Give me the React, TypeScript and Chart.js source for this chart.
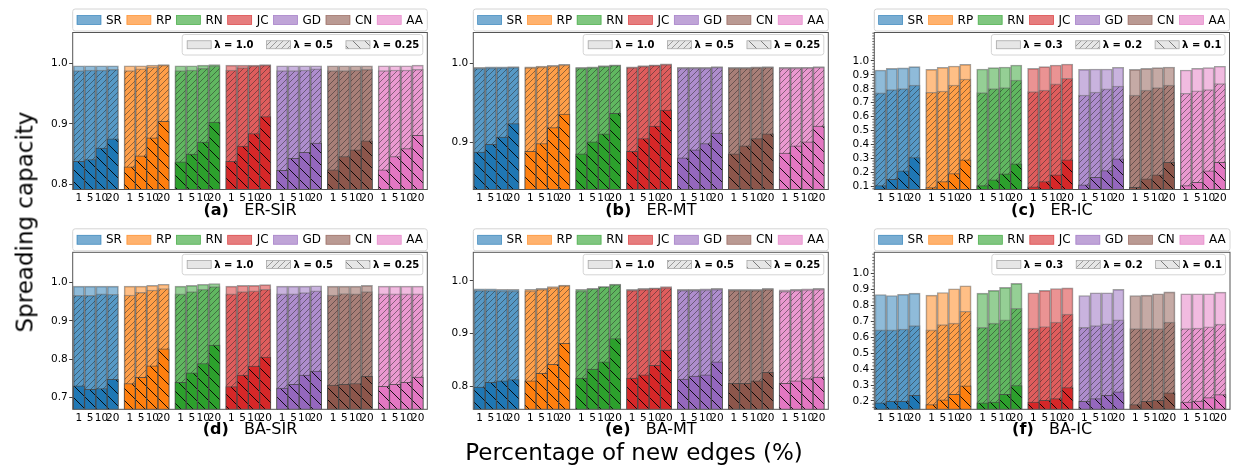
import { useEffect, useRef } from 'react';
import { Chart, registerables } from 'chart.js';

Chart.register(...registerables);

// ---------- categories / labels ----------
const METHODS = ['SR', 'RP', 'RN', 'JC', 'GD', 'CN', 'AA'];
const PCT_LABELS = ['1', '5', '10', '20'];
const COLORS = ['#1f77b4', '#ff7f0e', '#2ca02c', '#d62728', '#9467bd', '#8c564b', '#e377c2'];
const LAMBDA_SIR_MT = ['λ = 1.0', 'λ = 0.5', 'λ = 0.25'];
const LAMBDA_IC = ['λ = 0.3', 'λ = 0.2', 'λ = 0.1'];

// ---------- data (7 methods x 4 percentages) ----------
// (a) ER-SIR
const ER_SIR_HIGH = [0.996, 0.996, 0.996, 0.996, 0.996, 0.996, 0.997, 0.998, 0.996, 0.996, 0.997, 0.998, 0.997, 0.997, 0.997, 0.998, 0.996, 0.996, 0.996, 0.996, 0.996, 0.996, 0.996, 0.996, 0.996, 0.996, 0.996, 0.997];
const ER_SIR_MID = [0.988, 0.989, 0.989, 0.990, 0.988, 0.991, 0.994, 0.997, 0.988, 0.989, 0.992, 0.996, 0.989, 0.993, 0.996, 0.997, 0.988, 0.988, 0.989, 0.991, 0.988, 0.988, 0.989, 0.990, 0.988, 0.989, 0.989, 0.990];
const ER_SIR_LOW = [0.838, 0.841, 0.860, 0.875, 0.829, 0.847, 0.877, 0.904, 0.837, 0.850, 0.870, 0.903, 0.838, 0.863, 0.884, 0.912, 0.823, 0.843, 0.853, 0.868, 0.824, 0.846, 0.857, 0.872, 0.824, 0.846, 0.859, 0.881];
// (b) ER-MT
const ER_MT_HIGH = [0.995, 0.9955, 0.9955, 0.996, 0.9955, 0.9965, 0.9975, 0.9988, 0.995, 0.9955, 0.997, 0.998, 0.9957, 0.997, 0.998, 0.9993, 0.995, 0.995, 0.995, 0.996, 0.995, 0.995, 0.9955, 0.996, 0.995, 0.995, 0.995, 0.996];
const ER_MT_MID = [0.9938, 0.9942, 0.9943, 0.9948, 0.9945, 0.9955, 0.9966, 0.998, 0.994, 0.9945, 0.9962, 0.9975, 0.9946, 0.9963, 0.9973, 0.9985, 0.994, 0.994, 0.994, 0.995, 0.994, 0.994, 0.9945, 0.995, 0.994, 0.994, 0.9943, 0.995];
const ER_MT_LOW = [0.888, 0.898, 0.907, 0.924, 0.889, 0.899, 0.919, 0.936, 0.886, 0.901, 0.911, 0.937, 0.889, 0.905, 0.921, 0.941, 0.881, 0.891, 0.899, 0.912, 0.886, 0.896, 0.905, 0.911, 0.887, 0.896, 0.901, 0.921];
// (c) ER-IC
const ER_IC_HIGH = [0.935, 0.947, 0.950, 0.959, 0.940, 0.954, 0.964, 0.976, 0.942, 0.952, 0.957, 0.971, 0.947, 0.959, 0.971, 0.978, 0.940, 0.942, 0.942, 0.955, 0.940, 0.947, 0.952, 0.957, 0.935, 0.947, 0.952, 0.962];
const ER_IC_MID = [0.770, 0.794, 0.801, 0.827, 0.775, 0.784, 0.827, 0.870, 0.772, 0.801, 0.808, 0.863, 0.779, 0.791, 0.835, 0.876, 0.755, 0.777, 0.799, 0.820, 0.755, 0.791, 0.808, 0.827, 0.768, 0.786, 0.794, 0.837];
const ER_IC_LOW = [0.103, 0.149, 0.209, 0.305, 0.088, 0.132, 0.190, 0.288, 0.103, 0.144, 0.187, 0.259, 0.095, 0.132, 0.180, 0.288, 0.108, 0.163, 0.211, 0.295, 0.091, 0.151, 0.180, 0.271, 0.103, 0.127, 0.209, 0.271];
// (d) BA-SIR
const BA_SIR_HIGH = [0.990, 0.990, 0.990, 0.990, 0.990, 0.990, 0.992, 0.995, 0.990, 0.992, 0.995, 0.997, 0.990, 0.992, 0.992, 0.994, 0.990, 0.990, 0.990, 0.991, 0.990, 0.990, 0.990, 0.992, 0.990, 0.990, 0.990, 0.990];
const BA_SIR_MID = [0.966, 0.966, 0.970, 0.969, 0.967, 0.974, 0.980, 0.984, 0.970, 0.976, 0.982, 0.989, 0.970, 0.976, 0.978, 0.982, 0.970, 0.970, 0.973, 0.978, 0.967, 0.971, 0.970, 0.976, 0.970, 0.970, 0.970, 0.970];
const BA_SIR_LOW = [0.731, 0.722, 0.724, 0.748, 0.737, 0.753, 0.783, 0.827, 0.740, 0.765, 0.789, 0.837, 0.729, 0.759, 0.782, 0.806, 0.725, 0.735, 0.759, 0.769, 0.733, 0.735, 0.737, 0.756, 0.730, 0.735, 0.740, 0.754];
// (e) BA-MT
const BA_MT_HIGH = [0.985, 0.985, 0.984, 0.984, 0.984, 0.986, 0.989, 0.992, 0.984, 0.986, 0.989, 0.994, 0.984, 0.986, 0.987, 0.989, 0.984, 0.984, 0.985, 0.986, 0.984, 0.984, 0.984, 0.986, 0.983, 0.984, 0.985, 0.986];
const BA_MT_MID = [0.982, 0.982, 0.981, 0.981, 0.981, 0.984, 0.987, 0.991, 0.981, 0.985, 0.989, 0.993, 0.982, 0.984, 0.986, 0.987, 0.982, 0.982, 0.983, 0.984, 0.982, 0.982, 0.982, 0.984, 0.980, 0.982, 0.983, 0.984];
const BA_MT_LOW = [0.799, 0.808, 0.811, 0.813, 0.811, 0.825, 0.842, 0.882, 0.816, 0.833, 0.847, 0.891, 0.816, 0.822, 0.840, 0.869, 0.814, 0.820, 0.822, 0.847, 0.806, 0.806, 0.811, 0.827, 0.806, 0.811, 0.815, 0.818];
// (f) BA-IC
const BA_IC_HIGH = [0.867, 0.861, 0.869, 0.876, 0.863, 0.880, 0.903, 0.922, 0.876, 0.893, 0.912, 0.937, 0.878, 0.893, 0.905, 0.909, 0.861, 0.878, 0.878, 0.899, 0.861, 0.863, 0.872, 0.884, 0.872, 0.872, 0.872, 0.882];
const BA_IC_MID = [0.646, 0.646, 0.651, 0.672, 0.646, 0.678, 0.688, 0.762, 0.661, 0.688, 0.709, 0.781, 0.657, 0.667, 0.695, 0.745, 0.661, 0.672, 0.684, 0.709, 0.653, 0.653, 0.653, 0.695, 0.653, 0.657, 0.665, 0.682];
const BA_IC_LOW = [0.189, 0.198, 0.198, 0.236, 0.177, 0.208, 0.242, 0.295, 0.189, 0.194, 0.242, 0.297, 0.194, 0.204, 0.215, 0.284, 0.198, 0.215, 0.236, 0.257, 0.177, 0.198, 0.204, 0.251, 0.194, 0.200, 0.221, 0.240];

const TICKS_ER_SIR = [0.8, 0.9, 1.0];
const TICKS_ER_MT = [0.9, 1.0];
const TICKS_IC_ER = [0.1, 0.2, 0.3, 0.4, 0.5, 0.6, 0.7, 0.8, 0.9, 1.0];
const TICKS_BA_SIR = [0.7, 0.8, 0.9, 1.0];
const TICKS_BA_MT = [0.8, 0.9, 1.0];
const TICKS_IC_BA = [0.2, 0.3, 0.4, 0.5, 0.6, 0.7, 0.8, 0.9, 1.0];

// ---------- layout ----------
const W = 1243;
const H = 473;
const FONT = '"DejaVu Sans", "Liberation Sans", sans-serif';

const PANELS = [
  { tag: '(a)', name: 'ER-SIR', lambdas: LAMBDA_SIR_MT, high: ER_SIR_HIGH, mid: ER_SIR_MID, low: ER_SIR_LOW, yMin: 0.7914, yMax: 1.051, yTicks: TICKS_ER_SIR, minor: false, box: [72.7, 32.5, 427.3, 189.5] },
  { tag: '(b)', name: 'ER-MT', lambdas: LAMBDA_SIR_MT, high: ER_MT_HIGH, mid: ER_MT_MID, low: ER_MT_LOW, yMin: 0.841, yMax: 1.0388, yTicks: TICKS_ER_MT, minor: false, box: [473.3, 32.5, 828.3, 189.5] },
  { tag: '(c)', name: 'ER-IC', lambdas: LAMBDA_IC, high: ER_IC_HIGH, mid: ER_IC_MID, low: ER_IC_LOW, yMin: 0.075, yMax: 1.205, yTicks: TICKS_IC_ER, minor: true, box: [874.3, 32.5, 1229.5, 189.5] },
  { tag: '(d)', name: 'BA-SIR', lambdas: LAMBDA_SIR_MT, high: BA_SIR_HIGH, mid: BA_SIR_MID, low: BA_SIR_LOW, yMin: 0.670, yMax: 1.078, yTicks: TICKS_BA_SIR, minor: false, box: [72.7, 252.3, 427.3, 409.3] },
  { tag: '(e)', name: 'BA-MT', lambdas: LAMBDA_SIR_MT, high: BA_MT_HIGH, mid: BA_MT_MID, low: BA_MT_LOW, yMin: 0.757, yMax: 1.054, yTicks: TICKS_BA_MT, minor: false, box: [473.3, 252.3, 828.3, 409.3] },
  { tag: '(f)', name: 'BA-IC', lambdas: LAMBDA_IC, high: BA_IC_HIGH, mid: BA_IC_MID, low: BA_IC_LOW, yMin: 0.148, yMax: 1.1316, yTicks: TICKS_IC_BA, minor: true, box: [874.3, 252.3, 1230, 409.3] },
];

const GROUP_SPAN = 4.5; // 4 bars + half-bar gap
const xOf = (k: number) => Math.floor(k / 4) * GROUP_SPAN + (k % 4) + 0.5;
const X_TICKS = Array.from({ length: METHODS.length * PCT_LABELS.length }, (_, k) => xOf(k));

function rgba(hex: string, a: number) {
  const n = parseInt(hex.slice(1), 16);
  return `rgba(${(n >> 16) & 255},${(n >> 8) & 255},${n & 255},${a})`;
}

const patternCache = new Map<string, CanvasPattern>();
function hatch(base: string, line: string, dir: string, size: number, lw: number) {
  const key = [base, line, dir, size, lw].join('|');
  const got = patternCache.get(key);
  if (got) return got;
  const c = document.createElement('canvas');
  c.width = size;
  c.height = size;
  const x = c.getContext('2d')!;
  x.fillStyle = base;
  x.fillRect(0, 0, size, size);
  x.strokeStyle = line;
  x.lineWidth = lw;
  x.beginPath();
  if (dir === '/') {
    x.moveTo(0, size); x.lineTo(size, 0);
    x.moveTo(-size / 2, size / 2); x.lineTo(size / 2, -size / 2);
    x.moveTo(size / 2, size * 1.5); x.lineTo(size * 1.5, size / 2);
  } else {
    x.moveTo(0, 0); x.lineTo(size, size);
    x.moveTo(-size / 2, size / 2); x.lineTo(size / 2, size * 1.5);
    x.moveTo(size / 2, -size / 2); x.lineTo(size * 1.5, size / 2);
  }
  x.stroke();
  const p = x.createPattern(c, 'repeat')!;
  patternCache.set(key, p);
  return p;
}

const midFill = (c: string) => hatch(rgba(c, 0.5), 'rgba(40,40,40,0.5)', '/', 6, 1);
const lowFill = (c: string) => hatch(c, 'rgba(0,0,0,0.9)', '\\', 12, 1);

function roundRect(ctx: CanvasRenderingContext2D, x: number, y: number, w: number, h: number, r: number) {
  ctx.beginPath();
  ctx.moveTo(x + r, y);
  ctx.lineTo(x + w - r, y);
  ctx.quadraticCurveTo(x + w, y, x + w, y + r);
  ctx.lineTo(x + w, y + h - r);
  ctx.quadraticCurveTo(x + w, y + h, x + w - r, y + h);
  ctx.lineTo(x + r, y + h);
  ctx.quadraticCurveTo(x, y + h, x, y + h - r);
  ctx.lineTo(x, y + r);
  ctx.quadraticCurveTo(x, y, x + r, y);
  ctx.closePath();
}

function decor(cfg: any) {
  return {
    id: 'decor',
    afterDatasetsDraw(chart: any) {
      const ctx: CanvasRenderingContext2D = chart.ctx;
      const a = chart.chartArea;
      const L = a.left, R = a.right, T = a.top, B = a.bottom;
      ctx.save();

      // minor ticks
      if (cfg.minor) {
        const ys = chart.scales.y;
        ctx.strokeStyle = '#444';
        ctx.lineWidth = 0.8;
        const start = Math.ceil(cfg.yMin / 0.02);
        for (let i = start; i * 0.02 <= cfg.yMax; i++) {
          const v = i * 0.02;
          if (Math.abs(v * 10 - Math.round(v * 10)) < 1e-6 && v <= 1.0001) continue;
          const y = ys.getPixelForValue(v);
          ctx.beginPath();
          ctx.moveTo(L - 2, y);
          ctx.lineTo(L, y);
          ctx.stroke();
        }
      }

      // frame
      ctx.strokeStyle = '#555';
      ctx.lineWidth = 1;
      ctx.strokeRect(L, T, R - L, B - T);

      // method legend (above axes)
      ctx.font = `12px ${FONT}`;
      ctx.textBaseline = 'middle';
      ctx.textAlign = 'left';
      const pW = 24, pH = 9, gap = 5, pad = 4.3;
      const widths = METHODS.map((m) => pW + gap + ctx.measureText(m).width);
      const sum = widths.reduce((s, w) => s + w, 0);
      const sep = (R - L - 2 * pad - sum) / (METHODS.length - 1);
      const by0 = T - 23.5, by1 = T - 1.5;
      roundRect(ctx, L, by0, R - L, by1 - by0, 2.5);
      ctx.fillStyle = 'rgba(255,255,255,0.85)';
      ctx.fill();
      ctx.strokeStyle = '#d4d4d4';
      ctx.stroke();
      let x = L + pad;
      const cy = (by0 + by1) / 2;
      METHODS.forEach((m, i) => {
        ctx.fillStyle = rgba(COLORS[i], 0.6);
        ctx.fillRect(x, cy - pH / 2, pW, pH);
        ctx.strokeStyle = rgba(COLORS[i], 0.75);
        ctx.lineWidth = 0.8;
        ctx.strokeRect(x, cy - pH / 2, pW, pH);
        ctx.fillStyle = '#000';
        ctx.fillText(m, x + pW + gap, cy + 0.5);
        x += widths[i] + sep;
      });

      // lambda legend (inside, upper right)
      ctx.font = `bold 10px ${FONT}`;
      const lpW = 24, lpH = 8, lgap = 3, lsep = 13, lpadL = 5, lpadR = 3.5;
      const lw = cfg.lambdas.map((t: string) => ctx.measureText(t).width);
      const total = lpadL + lpadR + lw.reduce((s: number, w: number) => s + lpW + lgap + w, 0) + lsep * (lw.length - 1);
      const lx1 = R - 4.5, lx0 = lx1 - total;
      const ly0 = T + 2, ly1 = T + 22.5;
      roundRect(ctx, lx0, ly0, lx1 - lx0, ly1 - ly0, 2.5);
      ctx.fillStyle = 'rgba(255,255,255,0.85)';
      ctx.fill();
      ctx.strokeStyle = '#d4d4d4';
      ctx.lineWidth = 1;
      ctx.stroke();
      const lcy = (ly0 + ly1) / 2;
      const fills = [
        '#e6e6e6',
        hatch('#e6e6e6', '#9a9a9a', '/', 6, 1),
        hatch('#e6e6e6', '#7a7a7a', '\\', 12, 1),
      ];
      let lx = lx0 + lpadL;
      cfg.lambdas.forEach((t: string, i: number) => {
        ctx.fillStyle = fills[i];
        ctx.fillRect(lx, lcy - lpH / 2, lpW, lpH);
        ctx.strokeStyle = '#a8a8a8';
        ctx.lineWidth = 0.8;
        ctx.strokeRect(lx, lcy - lpH / 2, lpW, lpH);
        ctx.fillStyle = '#000';
        ctx.fillText(t, lx + lpW + lgap, lcy + 0.5);
        lx += lpW + lgap + lw[i] + lsep;
      });

      // panel title
      const boldF = `bold 16px ${FONT}`, normF = `16px ${FONT}`;
      ctx.font = boldF;
      const w1 = ctx.measureText(cfg.tag).width;
      ctx.font = normF;
      const sp = ctx.measureText('   ').width;
      const w2 = ctx.measureText(cfg.name).width;
      const tx = (L + R) / 2 - (w1 + sp + w2) / 2;
      const ty = B + 21;
      ctx.fillStyle = '#000';
      ctx.font = boldF;
      ctx.fillText(cfg.tag, tx, ty);
      ctx.font = normF;
      ctx.fillText(cfg.name, tx + w1 + sp, ty);

      ctx.restore();
    },
  };
}

function PanelChart({ cfg }: { cfg: any }) {
  const ref = useRef<HTMLCanvasElement>(null);
  useEffect(() => {
    const [L, T, R, B] = cfg.box;
    const YW = 48, XH = 20;
    const toPts = (vals: number[]) => vals.map((v, k) => ({ x: xOf(k), y: v }));
    const perBar = (f: (c: string) => any) => COLORS.flatMap((c) => PCT_LABELS.map(() => f(c)));
    const common = { grouped: false, barPercentage: 1, categoryPercentage: 1, borderWidth: 1 };
    const chart = new Chart(ref.current!, {
      type: 'bar',
      data: {
        datasets: [
          { ...common, label: cfg.lambdas[2], order: 1, data: toPts(cfg.low), backgroundColor: perBar(lowFill), borderColor: 'rgba(60,60,60,0.75)' },
          { ...common, label: cfg.lambdas[1], order: 2, data: toPts(cfg.mid), backgroundColor: perBar(midFill), borderColor: 'rgba(110,110,110,0.6)' },
          { ...common, label: cfg.lambdas[0], order: 3, data: toPts(cfg.high), backgroundColor: perBar((c) => rgba(c, 0.5)), borderColor: 'rgba(128,128,128,0.75)' },
        ],
      } as any,
      options: {
        responsive: false,
        animation: false,
        devicePixelRatio: 1,
        layout: { padding: { left: L - YW, top: T, right: W - R, bottom: H - B - XH } },
        plugins: { legend: { display: false }, tooltip: { enabled: false }, title: { display: false } },
        scales: {
          x: {
            type: 'linear',
            min: -0.05,
            max: 31.35,
            offset: false,
            afterFit: (s: any) => { s.height = XH; },
            afterBuildTicks: (s: any) => { s.ticks = X_TICKS.map((v) => ({ value: v })); },
            ticks: {
              autoSkip: false,
              maxRotation: 0,
              minRotation: 0,
              padding: 2.5,
              color: '#000',
              font: { family: FONT, size: 10.5 },
              callback: (_v: any, i: number) => PCT_LABELS[i % PCT_LABELS.length],
            },
            grid: { display: false, drawTicks: false, offset: false },
            border: { display: false },
          },
          y: {
            type: 'linear',
            min: cfg.yMin,
            max: cfg.yMax,
            beginAtZero: false,
            afterFit: (s: any) => { s.width = YW; },
            afterBuildTicks: (s: any) => { s.ticks = cfg.yTicks.map((v: number) => ({ value: v })); },
            ticks: {
              padding: 1.5,
              color: '#000',
              font: { family: FONT, size: 10.5 },
              callback: (v: any) => Number(v).toFixed(1),
            },
            grid: { display: true, drawOnChartArea: false, drawTicks: true, tickLength: 3.5, color: '#444', lineWidth: 1 },
            border: { display: false },
          },
        },
      } as any,
      plugins: [decor(cfg)],
    });
    return () => chart.destroy();
  }, [cfg]);
  return <canvas ref={ref} width={W} height={H} style={{ position: 'absolute', left: 0, top: 0, width: W, height: H }} />;
}

export default function App() {
  return (
    <div style={{ position: 'fixed', left: 0, top: 0, width: W, height: H, background: '#fff', overflow: 'hidden' }}>
      {PANELS.map((p) => (
        <PanelChart key={p.tag} cfg={p} />
      ))}
      <div
        style={{
          position: 'absolute', left: 25, top: 222, transform: 'translate(-50%, -50%) rotate(-90deg)',
          fontFamily: FONT, fontSize: 23, lineHeight: 1, whiteSpace: 'nowrap', color: '#000',
        }}
      >
        Spreading capacity
      </div>
      <div
        style={{
          position: 'absolute', left: 634, top: 452, transform: 'translate(-50%, -50%)',
          fontFamily: FONT, fontSize: 23, lineHeight: 1, whiteSpace: 'nowrap', color: '#000',
        }}
      >
        Percentage of new edges (%)
      </div>
    </div>
  );
}
